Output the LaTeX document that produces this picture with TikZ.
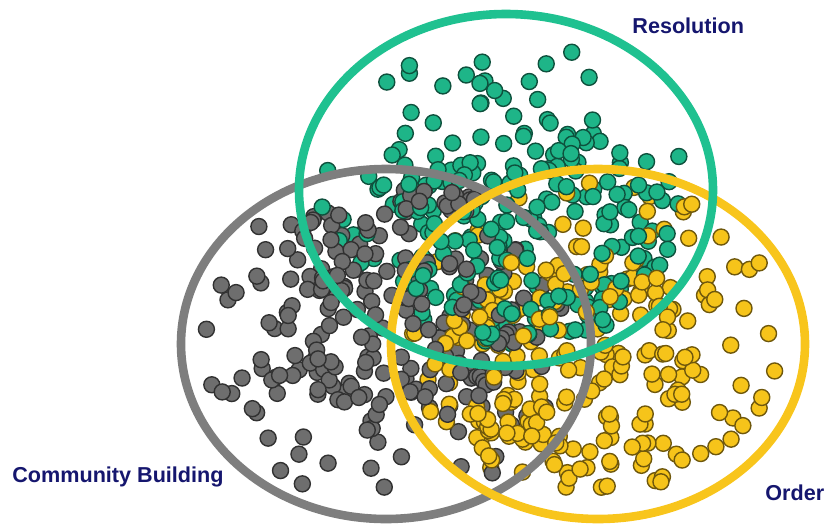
\documentclass[tikz,border=0pt]{standalone}
\usepackage{fontspec}
\setmainfont{Liberation Sans}
\usepackage{tikz}

\definecolor{resgreen}{HTML}{1FC190}
\definecolor{resdot}{HTML}{1EB588}
\definecolor{comgray}{HTML}{7E7E7E}
\definecolor{comdot}{HTML}{6E6E6E}
\definecolor{ordyellow}{HTML}{F8C51C}
\definecolor{orddot}{HTML}{F6C41A}
\definecolor{labelnavy}{HTML}{15166E}

\begin{document}
\begin{tikzpicture}[x=0.5pt,y=-0.5pt]
		\tikzset{setring/.style={line width=4.3pt,draw=#1},
			dot/.style={fill=#1,draw=#1!45!black,line width=0.7pt},
			setlabel/.style={text=labelnavy,font=\bfseries\fontsize{10.8}{12}\selectfont,inner sep=0pt}};
		\useasboundingbox (0,0) rectangle (825,525);
		\pgfmathsetseed{7}
		% spread over each set
		\foreach \i in {1,...,115}{
			\pgfmathsetmacro{\a}{360*rnd}\pgfmathsetmacro{\r}{0.9*sqrt(rnd)}
			\filldraw[dot=resdot] ({506+205*\r*cos(\a)},{195+170*\r*sin(\a)}) circle (8);
			\pgfmathsetmacro{\a}{360*rnd}\pgfmathsetmacro{\r}{0.92*sqrt(rnd)}
			\filldraw[dot=comdot] ({386+205*\r*cos(\a)},{340+175*\r*sin(\a)}) circle (8);
			\pgfmathsetmacro{\a}{360*rnd}\pgfmathsetmacro{\r}{0.92*sqrt(rnd)}
			\filldraw[dot=orddot] ({598+205*\r*cos(\a)},{340+175*\r*sin(\a)}) circle (8);
		}
		% denser toward the middle
		\foreach \i in {1,...,135}{
			\pgfmathsetmacro{\a}{360*rnd}\pgfmathsetmacro{\r}{sqrt(rnd)}
			\filldraw[dot=resdot] ({530+140*\r*cos(\a)},{235+110*\r*sin(\a)}) circle (8);
			\pgfmathsetmacro{\a}{360*rnd}\pgfmathsetmacro{\r}{sqrt(rnd)}
			\filldraw[dot=comdot] ({410+135*\r*cos(\a)},{300+125*\r*sin(\a)}) circle (8);
			\pgfmathsetmacro{\a}{360*rnd}\pgfmathsetmacro{\r}{sqrt(rnd)}
			\filldraw[dot=orddot] ({565+130*\r*cos(\a)},{360+120*\r*sin(\a)}) circle (8);
		}
		\draw[setring=comgray] (386,344) ellipse [x radius=205, y radius=175];
		\draw[setring=ordyellow] (598,344) ellipse [x radius=207, y radius=175];
		\draw[setring=resgreen] (506,190) ellipse [x radius=207, y radius=176];
		
		\node[setlabel,anchor=base west] (res) at (632,33) {Resolution};
		\node[setlabel,anchor=base west] (com) at (12,482) {Community Building};
		\node[setlabel,anchor=base west] (ord) at (765,500) {Order};
	\end{tikzpicture}
\end{document}
